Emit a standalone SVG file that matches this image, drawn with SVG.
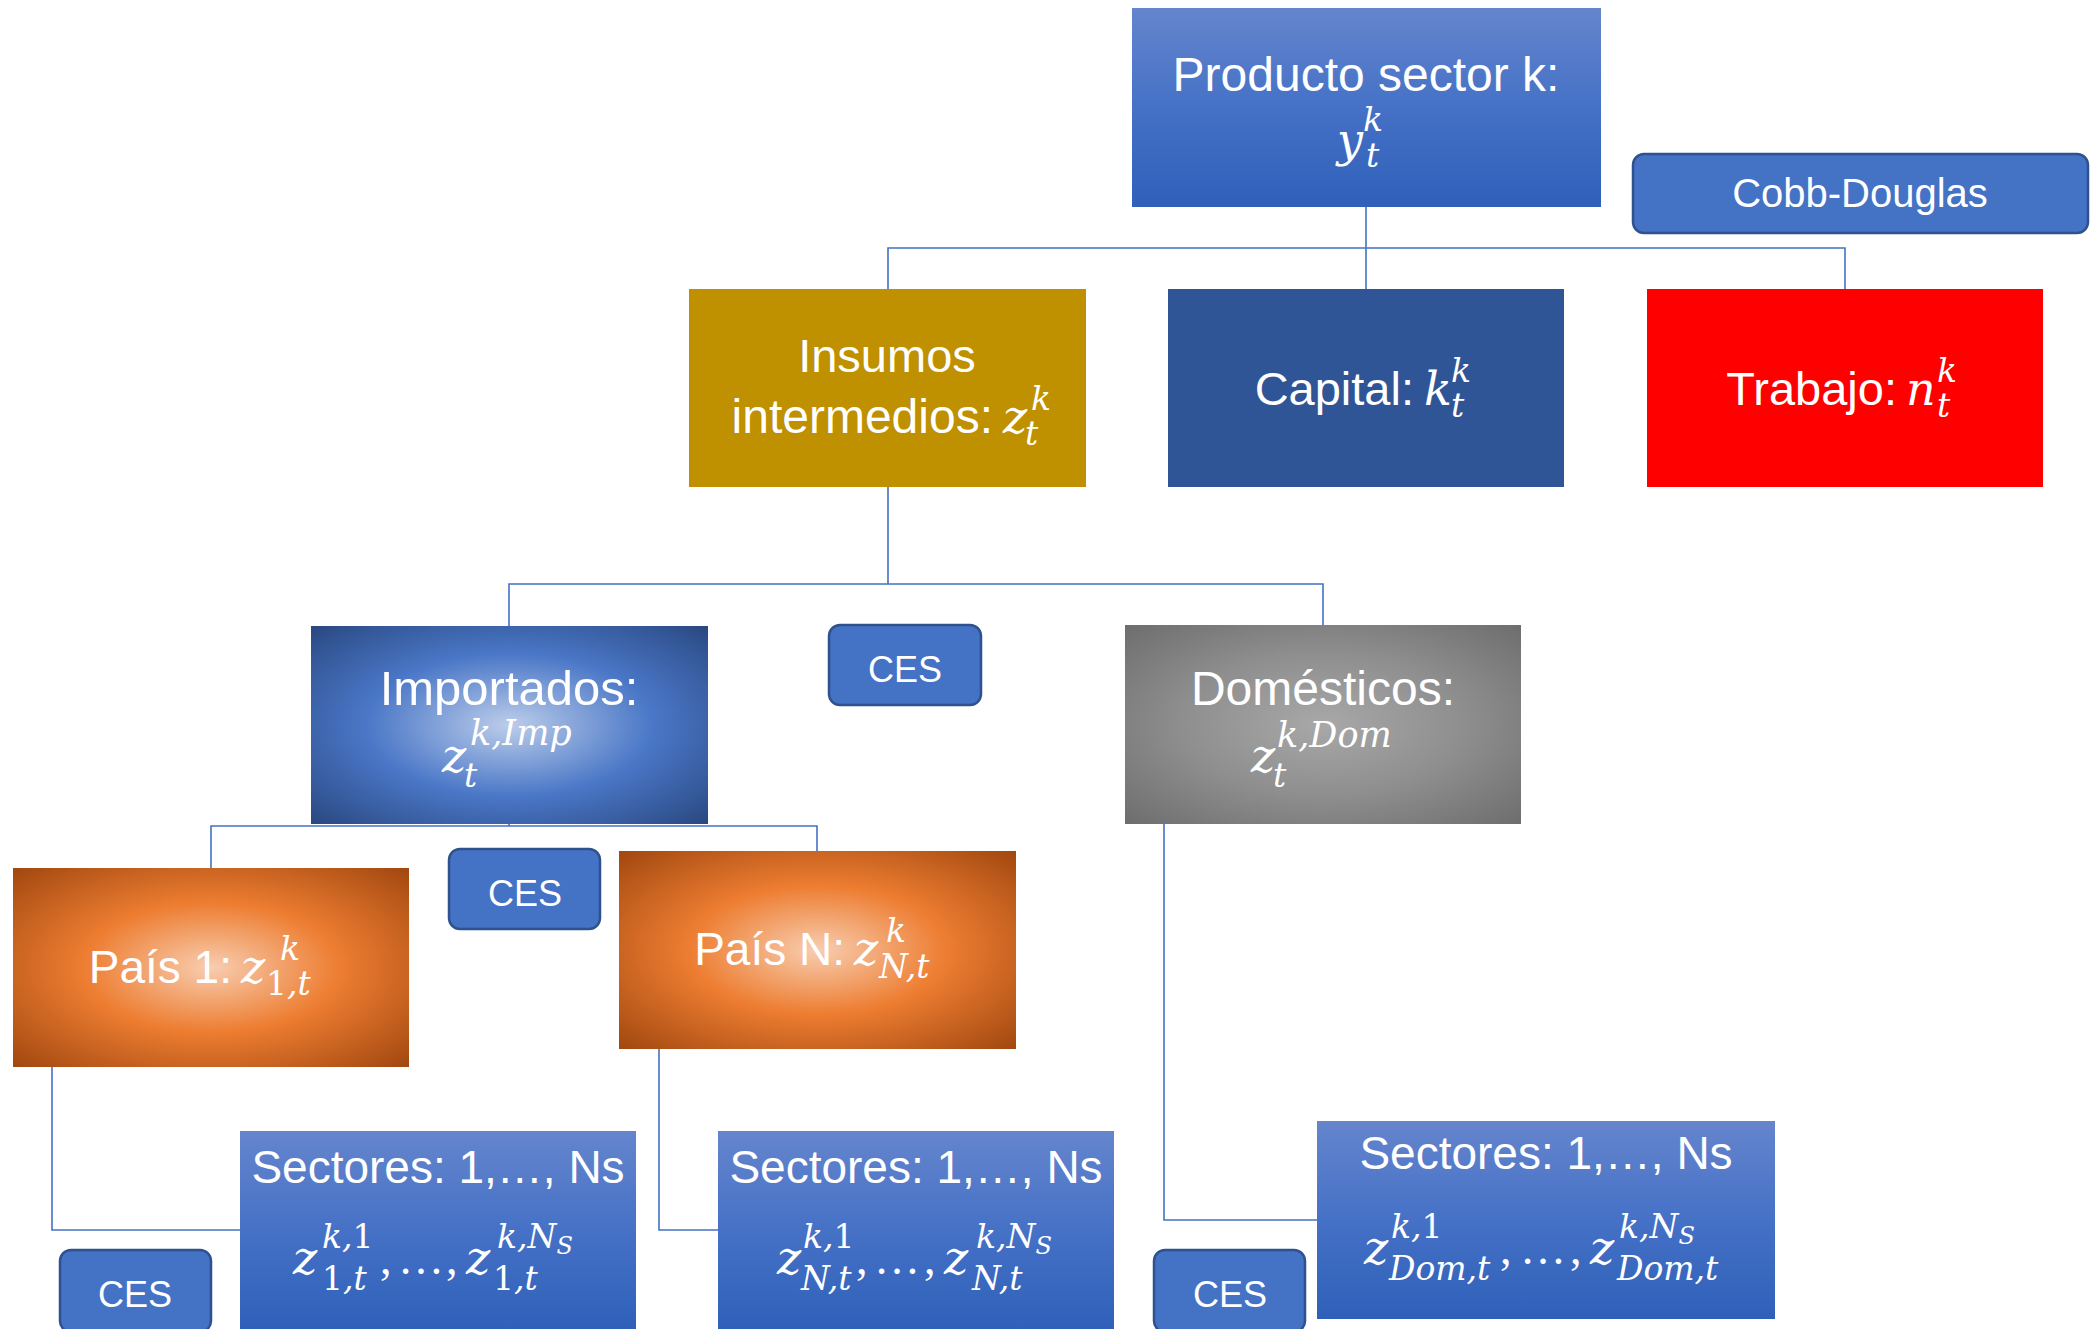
<svg xmlns="http://www.w3.org/2000/svg" width="2090" height="1329" viewBox="0 0 2090 1329">
<defs>
<linearGradient id="gLin" x1="0" y1="0" x2="0" y2="1">
<stop offset="0" stop-color="#6585cd"/>
<stop offset="0.5" stop-color="#4571c6"/>
<stop offset="1" stop-color="#2f60b9"/>
</linearGradient>
<radialGradient id="gImp" cx="0.5" cy="0.5" r="0.72">
<stop offset="0" stop-color="#bccdea"/>
<stop offset="0.5" stop-color="#4a77c7"/>
<stop offset="1" stop-color="#28467e"/>
</radialGradient>
<radialGradient id="gDom" cx="0.5" cy="0.5" r="0.72">
<stop offset="0" stop-color="#a8a8a8"/>
<stop offset="0.5" stop-color="#8e8e8e"/>
<stop offset="1" stop-color="#6c6c6c"/>
</radialGradient>
<radialGradient id="gPais" cx="0.5" cy="0.5" r="0.72">
<stop offset="0" stop-color="#f8cdb0"/>
<stop offset="0.45" stop-color="#ed7d31"/>
<stop offset="1" stop-color="#9e450e"/>
</radialGradient>
</defs>
<style>
.lbl{font-family:"Liberation Sans",Arial,sans-serif;font-size:47px;fill:#fff}
.ces{font-family:"Liberation Sans",Arial,sans-serif;font-size:36px;fill:#fff;text-anchor:middle}
.mt{fill:#fff}
.m{font-family:"DejaVu Serif","Liberation Serif",serif;font-style:italic;font-size:46px}
.s{font-family:"DejaVu Serif","Liberation Serif",serif;font-style:italic;font-size:33px}
.ss{font-family:"DejaVu Serif","Liberation Serif",serif;font-style:italic;font-size:24px}
.u{font-family:"DejaVu Serif","Liberation Serif",serif;font-style:normal;font-size:33px}
.p{font-family:"Liberation Serif",serif;font-style:normal;font-size:46px}
.pill{fill:#4472c4;stroke:#2f528f;stroke-width:2.5}
.c{text-anchor:middle}
.e{text-anchor:end}
.conn path{fill:none;stroke:#4472c4;stroke-width:1.6}
</style>

<g class="conn" id="connectors">
<path d="M1366 207 V248 M888 289 V248 H1845 V289 M1366 248 V289"/>
<path d="M888 487 V584 M509 626 V584 H1323 V625"/>
<path d="M211 868 V826 H817 V851 M509 824 V826"/>
<path d="M52 1067 V1230 H240"/>
<path d="M659 1049 V1230 H718"/>
<path d="M1164 824 V1220 H1317"/>
</g>

<g id="producto">
<rect x="1132" y="8" width="469" height="199" fill="url(#gLin)"/>
<text class="lbl c" x="1366" y="91" style="font-size:48px">Producto sector k:</text>
<text class="mt"><tspan class="m" x="1337" y="156">y</tspan><tspan class="s" x="1363" y="131">k</tspan><tspan class="s" x="1366" y="167">t</tspan></text>
</g>

<g id="cobb-douglas">
<rect class="pill" x="1633" y="154" width="455" height="79" rx="11"/>
<text class="ces" x="1860" y="207" style="font-size:40px">Cobb-Douglas</text>
</g>

<g id="insumos">
<rect x="689" y="289" width="397" height="198" fill="#bf9000"/>
<text class="lbl c" x="887" y="372">Insumos</text>
<text class="lbl e" x="993" y="433" style="font-size:48px">intermedios:</text>
<text class="mt"><tspan class="m" x="1003" y="433">z</tspan><tspan class="s" x="1031" y="410">k</tspan><tspan class="s" x="1025" y="445">t</tspan></text>
</g>

<g id="capital">
<rect x="1168" y="289" width="396" height="198" fill="#2f5597"/>
<text class="lbl e" x="1414" y="405">Capital:</text>
<text class="mt"><tspan class="m" x="1424" y="405">k</tspan><tspan class="s" x="1451" y="382">k</tspan><tspan class="s" x="1451" y="417">t</tspan></text>
</g>

<g id="trabajo">
<rect x="1647" y="289" width="396" height="198" fill="#ff0000"/>
<text class="lbl e" x="1897" y="405">Trabajo:</text>
<text class="mt"><tspan class="m" x="1906" y="405">n</tspan><tspan class="s" x="1937" y="382">k</tspan><tspan class="s" x="1937" y="417">t</tspan></text>
</g>

<g id="importados">
<rect x="311" y="626" width="397" height="198" fill="url(#gImp)"/>
<text class="lbl c" x="509" y="705" style="font-size:49px">Importados:</text>
<text class="mt"><tspan class="m" x="442" y="772">z</tspan><tspan class="s" x="470" y="745" style="font-size:35px">k,Imp</tspan><tspan class="s" x="464" y="787">t</tspan></text>
</g>

<g id="ces-1">
<rect class="pill" x="829" y="625" width="152" height="80" rx="11"/>
<text class="ces" x="905" y="682">CES</text>
</g>

<g id="domesticos">
<rect x="1125" y="625" width="396" height="199" fill="url(#gDom)"/>
<text class="lbl c" x="1323" y="705" style="font-size:48px">Domésticos:</text>
<text class="mt"><tspan class="m" x="1251" y="772">z</tspan><tspan class="s" x="1277" y="747" style="font-size:35px">k,Dom</tspan><tspan class="s" x="1273" y="787">t</tspan></text>
</g>

<g id="pais-1">
<rect x="13" y="868" width="396" height="199" fill="url(#gPais)"/>
<text class="lbl e" x="232" y="983" style="font-size:46px">País 1:</text>
<text class="mt"><tspan class="m" x="241" y="983">z</tspan><tspan class="s" x="280" y="960">k</tspan><tspan class="u" x="266" y="995">1</tspan><tspan class="s">,t</tspan></text>
</g>

<g id="ces-2">
<rect class="pill" x="449" y="849" width="151" height="80" rx="11"/>
<text class="ces" x="525" y="906">CES</text>
</g>

<g id="pais-n">
<rect x="619" y="851" width="397" height="198" fill="url(#gPais)"/>
<text class="lbl e" x="845" y="965" style="font-size:46px">País N:</text>
<text class="mt"><tspan class="m" x="854" y="965">z</tspan><tspan class="s" x="886" y="942">k</tspan><tspan class="s" x="879" y="978">N,t</tspan></text>
</g>

<g id="sectores-1">
<rect x="240" y="1131" width="396" height="200" fill="url(#gLin)"/>
<text class="lbl c" x="438" y="1183" style="font-size:46px">Sectores: 1,…, Ns</text>
<text class="mt"><tspan class="m" x="293" y="1274">z</tspan><tspan class="s" x="322" y="1248">k,</tspan><tspan class="u">1</tspan><tspan class="u" x="322" y="1290">1</tspan><tspan class="s">,t</tspan><tspan class="p" x="380" y="1274">,</tspan><tspan class="p" x="398" y="1274">…</tspan><tspan class="p" x="446" y="1274">,</tspan><tspan class="m" x="466" y="1274">z</tspan><tspan class="s" x="497" y="1248">k,N</tspan><tspan class="ss" dy="6">S</tspan><tspan class="u" x="493" y="1290">1</tspan><tspan class="s">,t</tspan></text>
</g>

<g id="ces-3">
<rect class="pill" x="60" y="1250" width="151" height="82" rx="11"/>
<text class="ces" x="135" y="1307">CES</text>
</g>

<g id="sectores-n">
<rect x="718" y="1131" width="396" height="200" fill="url(#gLin)"/>
<text class="lbl c" x="916" y="1183" style="font-size:46px">Sectores: 1,…, Ns</text>
<text class="mt"><tspan class="m" x="777" y="1274">z</tspan><tspan class="s" x="803" y="1248">k,</tspan><tspan class="u">1</tspan><tspan class="s" x="801" y="1290">N,t</tspan><tspan class="p" x="856" y="1274">,</tspan><tspan class="p" x="874" y="1274">…</tspan><tspan class="p" x="924" y="1274">,</tspan><tspan class="m" x="944" y="1274">z</tspan><tspan class="s" x="976" y="1248">k,N</tspan><tspan class="ss" dy="6">S</tspan><tspan class="s" x="972" y="1290">N,t</tspan></text>
</g>

<g id="sectores-dom">
<rect x="1317" y="1121" width="458" height="198" fill="url(#gLin)"/>
<text class="lbl c" x="1546" y="1169" style="font-size:46px">Sectores: 1,…, Ns</text>
<text class="mt"><tspan class="m" x="1364" y="1264">z</tspan><tspan class="s" x="1391" y="1238">k,</tspan><tspan class="u">1</tspan><tspan class="s" x="1389" y="1280">Dom,t</tspan><tspan class="p" x="1500" y="1264">,</tspan><tspan class="p" x="1520" y="1264">…</tspan><tspan class="p" x="1570" y="1264">,</tspan><tspan class="m" x="1590" y="1264">z</tspan><tspan class="s" x="1619" y="1238">k,N</tspan><tspan class="ss" dy="6">S</tspan><tspan class="s" x="1617" y="1280">Dom,t</tspan></text>
</g>

<g id="ces-4">
<rect class="pill" x="1154" y="1250" width="151" height="82" rx="11"/>
<text class="ces" x="1230" y="1307">CES</text>
</g>
</svg>
